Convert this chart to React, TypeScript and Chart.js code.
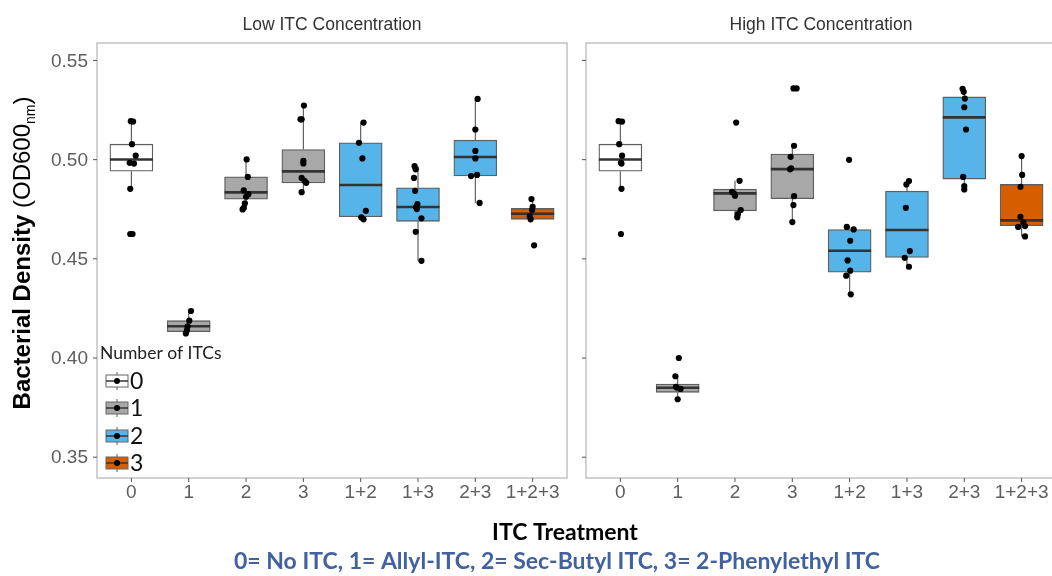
import React, { useEffect, useRef } from 'react';
import { Chart, registerables } from 'chart.js';

Chart.register(...registerables);

// ---------- data ----------
const categories = ['0', '1', '2', '3', '1+2', '1+3', '2+3', '1+2+3'];
const groupOfCategory = [0, 1, 1, 1, 2, 2, 2, 3];
const legendLabels = ['0', '1', '2', '3'];
const legendTitle = 'Number of ITCs';
const panelTitles = ['Low ITC Concentration', 'High ITC Concentration'];
const yTicks = [0.35, 0.4, 0.45, 0.5, 0.55];
const yTickLabels = ['0.35', '0.40', '0.45', '0.50', '0.55'];

// Low ITC concentration
const lowQ1 = [0.4942, 0.4133, 0.4801, 0.4882, 0.4712, 0.4689, 0.4918, 0.4699];
const lowMedian = [0.5001, 0.416, 0.4835, 0.4941, 0.4872, 0.4761, 0.5013, 0.4727];
const lowQ3 = [0.5078, 0.4188, 0.4913, 0.5051, 0.5085, 0.4858, 0.5098, 0.4754];
const lowWhiskerLow = [0.4853, 0.4124, 0.4746, 0.4836, 0.4699, 0.449, 0.4782, 0.4699];
const lowWhiskerHigh = [0.5194, 0.4237, 0.5001, 0.5273, 0.5187, 0.4967, 0.5306, 0.4801];
const lowPoints = [
  [0.5194, 0.5192, 0.5078, 0.502, 0.4984, 0.498, 0.4853, 0.4625, 0.4625],
  [0.4237, 0.4188, 0.416, 0.4141, 0.4124],
  [0.5001, 0.4913, 0.4845, 0.4826, 0.4813, 0.478, 0.4757, 0.4749],
  [0.5273, 0.5203, 0.5203, 0.4994, 0.4981, 0.4908, 0.4893, 0.4883, 0.4836],
  [0.5187, 0.5085, 0.5006, 0.4742, 0.4709, 0.4699],
  [0.4967, 0.4951, 0.4908, 0.4843, 0.4776, 0.4761, 0.4751, 0.4704, 0.4636, 0.449],
  [0.5306, 0.5152, 0.5044, 0.5006, 0.4923, 0.4917, 0.4782],
  [0.4801, 0.4762, 0.4746, 0.4715, 0.4699, 0.4568],
];
const lowJitter = [
  [-0.01, 0.03, 0.01, 0.075, -0.03, 0.045, -0.02, -0.02, 0.02],
  [0.04, 0.01, -0.02, -0.03, -0.05],
  [0.01, 0.03, -0.04, 0.04, 0, -0.02, -0.04, -0.06],
  [0.01, -0.05, -0.03, 0, 0.0, -0.03, 0.02, 0.05, -0.03],
  [0.05, -0.03, 0.03, 0.09, 0.01, 0.05],
  [-0.06, -0.04, -0.07, -0.05, -0.01, -0.035, -0.02, 0.06, -0.04, 0.06],
  [0.04, 0, 0, 0, 0.03, -0.075, 0.075],
  [-0.02, 0, -0.01, -0.05, -0.035, 0.025],
];

// High ITC concentration
const highQ1 = [0.4942, 0.3827, 0.4742, 0.4803, 0.4433, 0.4507, 0.4902, 0.4667];
const highMedian = [0.5001, 0.385, 0.483, 0.4952, 0.4541, 0.4645, 0.5213, 0.4694];
const highQ3 = [0.5078, 0.3869, 0.4851, 0.5028, 0.4648, 0.4841, 0.5316, 0.4875];
const highWhiskerLow = [0.4853, 0.3792, 0.4709, 0.4685, 0.4321, 0.446, 0.485, 0.4613];
const highWhiskerHigh = [0.5194, 0.3908, 0.4893, 0.507, 0.4665, 0.4892, 0.5357, 0.5018];
const highPoints = [
  [0.5194, 0.5192, 0.5078, 0.502, 0.4984, 0.498, 0.4853, 0.4625],
  [0.4, 0.3908, 0.3855, 0.385, 0.3844, 0.3792],
  [0.5187, 0.4893, 0.4838, 0.483, 0.4818, 0.4746, 0.4725, 0.4709],
  [0.5359, 0.5359, 0.507, 0.5014, 0.4956, 0.4951, 0.4816, 0.4771, 0.4685],
  [0.4999, 0.4661, 0.4648, 0.4591, 0.4492, 0.444, 0.4415, 0.4321],
  [0.4892, 0.4875, 0.4757, 0.4539, 0.4505, 0.446],
  [0.5357, 0.5342, 0.5308, 0.5264, 0.5152, 0.4913, 0.4867, 0.485],
  [0.5018, 0.4923, 0.4863, 0.4712, 0.4682, 0.4661, 0.4665, 0.4613],
];
const highJitter = [
  [-0.03, 0.03, -0.02, 0.03, 0.01, 0.02, 0.02, 0.01],
  [0.02, -0.04, -0.03, -0.01, 0.05, 0],
  [0.02, 0.08, -0.05, -0.02, 0, 0.1, 0.05, 0.04],
  [0.02, 0.075, 0.03, -0.03, -0.02, -0.04, 0.03, 0.02, 0],
  [-0.01, -0.05, 0.07, 0.01, -0.035, 0.01, -0.06, 0.02],
  [0.035, -0.01, -0.02, 0.05, -0.04, 0.035],
  [-0.03, -0.01, 0.01, 0, 0.03, -0.02, 0, 0],
  [0, 0.01, -0.02, -0.02, 0.03, -0.06, 0.06, 0.06],
];

// ---------- layout / style constants ----------
const groupColors = ['#FFFFFF', '#A8A8A8', '#56B4E9', '#D55E00'];
const panelOffsets = [0, 8.53];
const X_MIN = -0.6;
const X_MAX = 16.13;
const Y_MIN = 0.3395;
const Y_MAX = 0.5588;
const HALF_BOX = 0.375;
const CANVAS_W = 1060;
const CANVAS_H = 576;

const panels = [
  { q1: lowQ1, med: lowMedian, q3: lowQ3, wlo: lowWhiskerLow, whi: lowWhiskerHigh, pts: lowPoints, jit: lowJitter },
  { q1: highQ1, med: highMedian, q3: highQ3, wlo: highWhiskerLow, whi: highWhiskerHigh, pts: highPoints, jit: highJitter },
];

function buildDatasets() {
  const whisker: any[] = [];
  const boxes: any[] = [];
  const boxColors: string[] = [];
  const medians: any[] = [];
  const points: any[] = [];
  panels.forEach((p, pi) => {
    const off = panelOffsets[pi];
    categories.forEach((_, i) => {
      const cx = off + i;
      whisker.push({ x: cx, y: p.wlo[i] }, { x: cx, y: p.q1[i] }, { x: cx, y: null });
      whisker.push({ x: cx, y: p.q3[i] }, { x: cx, y: p.whi[i] }, { x: cx, y: null });
      boxes.push({ x: cx, y: [p.q1[i], p.q3[i]] });
      boxColors.push(groupColors[groupOfCategory[i]]);
      medians.push({ x: cx - HALF_BOX, y: p.med[i] }, { x: cx + HALF_BOX, y: p.med[i] }, { x: cx, y: null });
      p.pts[i].forEach((v, k) => points.push({ x: cx + p.jit[i][k], y: v }));
    });
  });
  return [
    {
      type: 'line', data: whisker, borderColor: '#555555', borderWidth: 1.1, pointRadius: 0,
      spanGaps: false, fill: false, order: 4,
    },
    {
      type: 'bar', data: boxes, backgroundColor: boxColors, borderColor: '#5f5f5f', borderWidth: 1.3,
      barThickness: 43, borderSkipped: false, order: 3,
    },
    {
      type: 'line', data: medians, borderColor: '#333333', borderWidth: 2.6, pointRadius: 0,
      spanGaps: false, fill: false, order: 2,
    },
    {
      type: 'scatter', data: points, backgroundColor: '#000000', borderWidth: 0, pointRadius: 3.1,
      order: 1,
    },
  ];
}

const facetPlugin = {
  id: 'facetDecor',
  beforeDraw(chart: any) {
    const ctx = chart.ctx;
    ctx.save();
    ctx.fillStyle = '#ffffff';
    ctx.fillRect(0, 0, chart.width, chart.height);
    ctx.restore();
  },
  afterDraw(chart: any) {
    const { ctx } = chart;
    const xs = chart.scales.x;
    const ys = chart.scales.y;
    const top = ys.getPixelForValue(Y_MAX);
    const bottom = ys.getPixelForValue(Y_MIN);
    ctx.save();
    panelOffsets.forEach((off, pi) => {
      const left = xs.getPixelForValue(off - 0.6);
      const right = xs.getPixelForValue(off + 7.6);
      ctx.strokeStyle = '#b9b9b9';
      ctx.lineWidth = 1.3;
      ctx.strokeRect(left, top, right - left, bottom - top);
      // y ticks
      ctx.strokeStyle = '#555555';
      ctx.lineWidth = 1;
      yTicks.forEach((v, k) => {
        const py = ys.getPixelForValue(v);
        ctx.beginPath();
        ctx.moveTo(left - 4, py);
        ctx.lineTo(left, py);
        ctx.stroke();
        if (pi === 0) {
          ctx.fillStyle = '#5e5e5e';
          ctx.font = '19px "Liberation Sans", Arial, sans-serif';
          ctx.textAlign = 'right';
          ctx.textBaseline = 'middle';
          ctx.fillText(yTickLabels[k], left - 9, py + 1);
        }
      });
      // x ticks
      categories.forEach((c, i) => {
        const px = xs.getPixelForValue(off + i);
        ctx.strokeStyle = '#555555';
        ctx.beginPath();
        ctx.moveTo(px, bottom);
        ctx.lineTo(px, bottom + 4);
        ctx.stroke();
        ctx.fillStyle = '#5e5e5e';
        ctx.font = '19px "Liberation Sans", Arial, sans-serif';
        ctx.textAlign = 'center';
        ctx.textBaseline = 'middle';
        ctx.fillText(c, px, bottom + 15);
      });
      // strip title
      ctx.fillStyle = '#333333';
      ctx.font = '17.5px "Liberation Sans", Arial, sans-serif';
      ctx.textAlign = 'center';
      ctx.textBaseline = 'alphabetic';
      ctx.fillText(panelTitles[pi], (left + right) / 2, 30);
    });

    // y axis title (rotated)
    const parts = [
      { t: 'Bacterial Density ', f: 'bold 24px "Liberation Sans", Arial, sans-serif', dy: 0 },
      { t: '(OD600', f: '24px "Liberation Sans", Arial, sans-serif', dy: 0 },
      { t: 'nm', f: '14px "Liberation Sans", Arial, sans-serif', dy: 5 },
      { t: ')', f: '24px "Liberation Sans", Arial, sans-serif', dy: 0 },
    ];
    let total = 0;
    parts.forEach((p) => { ctx.font = p.f; total += ctx.measureText(p.t).width; });
    ctx.save();
    ctx.translate(30, 253);
    ctx.rotate(-Math.PI / 2);
    ctx.fillStyle = '#000000';
    ctx.textAlign = 'left';
    ctx.textBaseline = 'alphabetic';
    let cx = -total / 2;
    parts.forEach((p) => {
      ctx.font = p.f;
      ctx.fillText(p.t, cx, 0 + p.dy);
      cx += ctx.measureText(p.t).width;
    });
    ctx.restore();

    // x axis title and subtitle
    ctx.textAlign = 'center';
    ctx.textBaseline = 'middle';
    ctx.fillStyle = '#000000';
    ctx.font = 'bold 23px Lato, "Open Sans", sans-serif';
    ctx.fillText('ITC Treatment', 565, 533, 152);
    ctx.fillStyle = '#41629f';
    ctx.font = 'bold 23px Lato, "Open Sans", sans-serif';
    ctx.fillText('0= No ITC, 1= Allyl-ITC, 2= Sec-Butyl ITC, 3= 2-Phenylethyl ITC', 557, 562, 656);

    // legend
    ctx.textAlign = 'left';
    ctx.fillStyle = '#222222';
    ctx.font = '17.5px Lato, "Open Sans", sans-serif';
    ctx.fillText(legendTitle, 100, 353, 132);
    const rows = [381, 408, 436, 463];
    legendLabels.forEach((lab, g) => {
      const cy = rows[g];
      ctx.strokeStyle = '#5a5a5a';
      ctx.lineWidth = 1;
      ctx.beginPath();
      ctx.moveTo(117, cy - 9);
      ctx.lineTo(117, cy + 9);
      ctx.stroke();
      ctx.fillStyle = groupColors[g];
      ctx.fillRect(106, cy - 6, 22, 12);
      ctx.strokeStyle = '#666666';
      ctx.strokeRect(106, cy - 6, 22, 12);
      ctx.strokeStyle = '#333333';
      ctx.lineWidth = 1.5;
      ctx.beginPath();
      ctx.moveTo(106, cy);
      ctx.lineTo(128, cy);
      ctx.stroke();
      ctx.fillStyle = '#000000';
      ctx.beginPath();
      ctx.arc(117, cy, 3, 0, Math.PI * 2);
      ctx.fill();
      ctx.fillStyle = '#111111';
      ctx.font = '23px Lato, "Open Sans", sans-serif';
      ctx.fillText(lab, 130, cy + 1);
    });
    ctx.restore();
  },
};

export default function App() {
  const ref = useRef<HTMLCanvasElement | null>(null);
  useEffect(() => {
    if (!ref.current) return;
    const chart = new Chart(ref.current, {
      type: 'bar',
      data: { datasets: buildDatasets() as any },
      options: {
        responsive: false,
        animation: false,
        events: [],
        devicePixelRatio: 1,
        layout: { padding: { left: 97, right: CANVAS_W - 1057, top: 43, bottom: CANVAS_H - 478 } },
        plugins: { legend: { display: false }, tooltip: { enabled: false }, title: { display: false } },
        scales: {
          x: { type: 'linear', min: X_MIN, max: X_MAX, display: false, offset: false, grid: { display: false } },
          y: { type: 'linear', min: Y_MIN, max: Y_MAX, display: false, grid: { display: false } },
        },
      } as any,
      plugins: [facetPlugin],
    });
    return () => chart.destroy();
  }, []);
  return (
    <div style={{ position: 'absolute', left: 0, top: 0, width: 1052, height: 576, overflow: 'hidden', background: '#fff' }}>
      <canvas ref={ref} width={CANVAS_W} height={CANVAS_H} style={{ display: 'block', width: CANVAS_W, height: CANVAS_H }} />
    </div>
  );
}
